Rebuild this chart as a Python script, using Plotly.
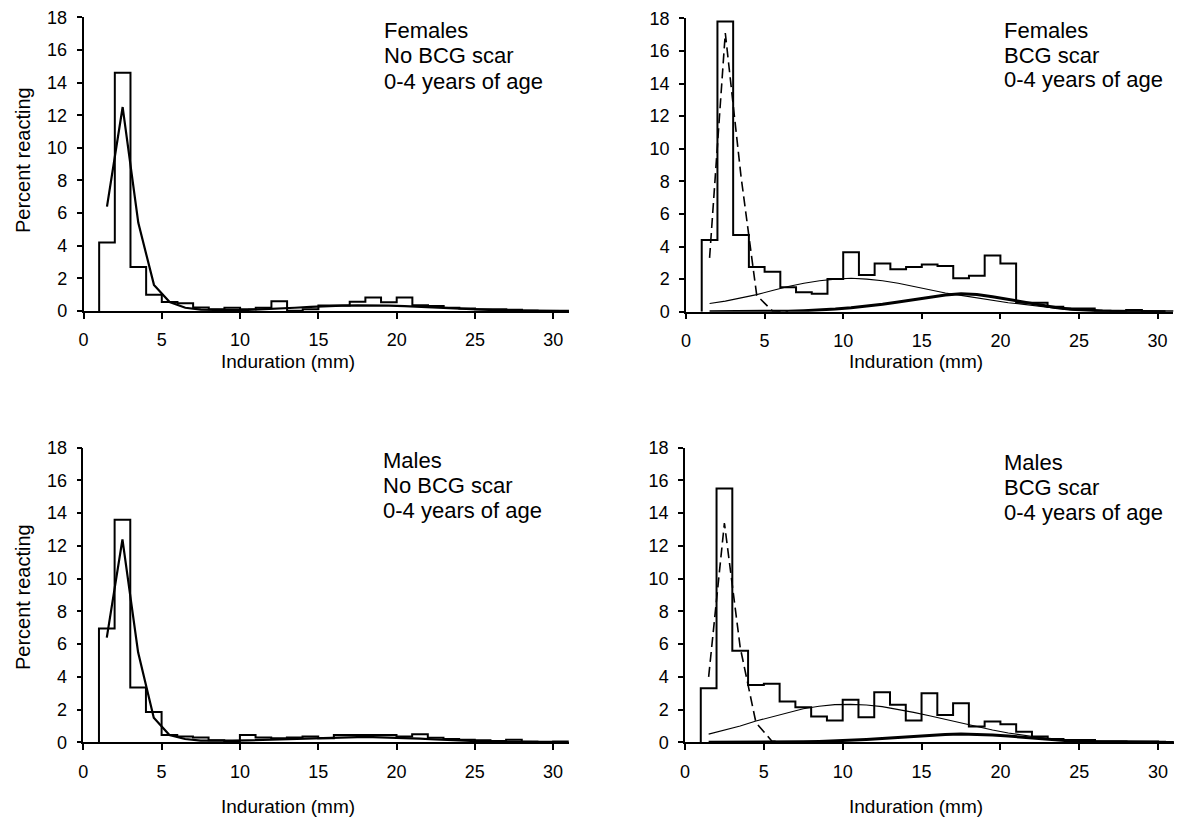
import plotly.graph_objects as go

# ---------------- data ----------------
# histogram bins: [1,2), [2,3), ... [30,31)  (percent reacting)
bin_left = list(range(1, 31))
bin_right_end = 31
# fitted curves evaluated at bin centres
centres = [b + 0.5 for b in range(1, 31)]
dash_centres = [1.5, 2.5, 3.5, 4.5, 5.5, 6.5]

tl_hist = [4.2, 14.6, 2.7, 1.0, 0.55, 0.47, 0.22, 0.1, 0.2, 0.1, 0.2, 0.6, 0.02, 0.1, 0.33,
           0.33, 0.57, 0.82, 0.53, 0.82, 0.35, 0.3, 0.2, 0.15, 0.1, 0.1, 0.08, 0.03, 0.02, 0.01]
tl_fit = [6.4, 12.5, 5.4, 1.6, 0.55, 0.2, 0.08, 0.05, 0.05, 0.07, 0.1, 0.15, 0.2, 0.25, 0.3,
          0.33, 0.35, 0.35, 0.33, 0.3, 0.25, 0.2, 0.15, 0.1, 0.07, 0.04, 0.02, 0.01, 0.0, 0.0]

tr_hist = [4.4, 17.8, 4.7, 2.75, 2.45, 1.5, 1.2, 1.1, 2.0, 3.65, 2.25, 2.95, 2.6, 2.75, 2.9,
           2.8, 2.05, 2.2, 3.45, 2.95, 0.55, 0.55, 0.3, 0.2, 0.2, 0.06, 0.05, 0.1, 0.03, 0.02]
tr_dash = [3.3, 17.1, 8.3, 1.0, 0.05, 0.0]
tr_thin = [0.5, 0.65, 0.85, 1.05, 1.3, 1.55, 1.75, 1.9, 2.0, 2.05, 2.0, 1.9, 1.75, 1.55, 1.35,
           1.15, 1.0, 0.85, 0.7, 0.55, 0.45, 0.32, 0.21, 0.13, 0.07, 0.04, 0.02, 0.01, 0.0, 0.0]
tr_thick = [0.0, 0.0, 0.0, 0.0, 0.01, 0.03, 0.06, 0.1, 0.16, 0.24, 0.34, 0.46, 0.6, 0.75, 0.9,
            1.03, 1.1, 1.05, 0.92, 0.75, 0.57, 0.4, 0.26, 0.15, 0.08, 0.04, 0.02, 0.01, 0.0, 0.0]

bl_hist = [6.95, 13.6, 3.35, 1.85, 0.45, 0.35, 0.3, 0.12, 0.08, 0.45, 0.3, 0.25, 0.3, 0.35, 0.25,
           0.45, 0.45, 0.45, 0.45, 0.35, 0.49, 0.28, 0.2, 0.15, 0.12, 0.08, 0.15, 0.05, 0.03, 0.05]
bl_fit = [6.4, 12.4, 5.5, 1.5, 0.45, 0.2, 0.1, 0.08, 0.1, 0.12, 0.15, 0.18, 0.22, 0.25, 0.28,
          0.3, 0.32, 0.32, 0.3, 0.27, 0.22, 0.17, 0.12, 0.08, 0.05, 0.03, 0.02, 0.01, 0.0, 0.0]

br_hist = [3.3, 15.5, 5.6, 3.5, 3.57, 2.5, 2.14, 1.57, 1.33, 2.6, 1.53, 3.06, 2.29, 1.33, 3.0,
           1.67, 2.39, 0.96, 1.27, 1.1, 0.65, 0.35, 0.2, 0.14, 0.14, 0.07, 0.07, 0.05, 0.05, 0.02]
br_dash = [4.0, 13.4, 5.8, 1.2, 0.08, 0.0]
br_thin = [0.5, 0.75, 1.0, 1.3, 1.55, 1.8, 2.05, 2.2, 2.3, 2.32, 2.28, 2.18, 2.02, 1.83, 1.62,
           1.4, 1.17, 0.95, 0.75, 0.57, 0.42, 0.29, 0.19, 0.12, 0.07, 0.04, 0.02, 0.01, 0.0, 0.0]
br_thick = [0.0, 0.0, 0.0, 0.0, 0.01, 0.02, 0.03, 0.05, 0.08, 0.12, 0.17, 0.23, 0.3, 0.37, 0.43,
            0.48, 0.5, 0.49, 0.45, 0.38, 0.3, 0.22, 0.14, 0.08, 0.04, 0.02, 0.01, 0.0, 0.0, 0.0]

labels_tl = ["Females", "No BCG scar", "0-4 years of age"]
labels_tr = ["Females", "BCG scar", "0-4 years of age"]
labels_bl = ["Males", "No BCG scar", "0-4 years of age"]
labels_br = ["Males", "BCG scar", "0-4 years of age"]

x_ticks = [0, 5, 10, 15, 20, 25, 30]
y_ticks = [0, 2, 4, 6, 8, 10, 12, 14, 16, 18]
x_title = "Induration (mm)"
y_title = "Percent reacting"

# ---------------- layout geometry (pixels) ----------------
W, H = 1178, 817
FONT = "Liberation Sans, Arial, Helvetica, sans-serif"
XMAX = 31

panels = [
    dict(hist=tl_hist, fit=tl_fit, labels=labels_tl, x0=83.5, pxu=15.66, ybot=311.0, ytop=17.3,
         lab_x=382, lab_y=[29, 55, 80], ytitle=True),
    dict(hist=tr_hist, dash=tr_dash, thin=tr_thin, thick=tr_thick, labels=labels_tr, x0=686.0,
         pxu=15.72, ybot=311.7, ytop=18.3, lab_x=1002, lab_y=[29, 54, 79], ytitle=False),
    dict(hist=bl_hist, fit=bl_fit, labels=labels_bl, x0=83.3, pxu=15.66, ybot=742.3, ytop=447.7,
         lab_x=381, lab_y=[460, 484.5, 509.5], ytitle=True),
    dict(hist=br_hist, dash=br_dash, thin=br_thin, thick=br_thick, labels=labels_br, x0=685.0,
         pxu=15.77, ybot=742.3, ytop=447.7, lab_x=1002, lab_y=[461.5, 486.5, 511.5], ytitle=False),
]

fig = go.Figure()
annotations = []
layout_axes = {}

for i, p in enumerate(panels, start=1):
    xa = "x" if i == 1 else f"x{i}"
    ya = "y" if i == 1 else f"y{i}"
    # histogram outline as a step line
    hx = [bin_left[0]] + bin_left + [bin_right_end, bin_right_end]
    hy = [0] + p["hist"] + [p["hist"][-1], 0]
    fig.add_trace(go.Scatter(x=hx, y=hy, mode="lines", line=dict(color="black", width=2, shape="hv"),
                             xaxis=xa, yaxis=ya, showlegend=False, hoverinfo="skip"))
    if "fit" in p:
        fig.add_trace(go.Scatter(x=centres, y=p["fit"], mode="lines",
                                 line=dict(color="black", width=2.2),
                                 xaxis=xa, yaxis=ya, showlegend=False, hoverinfo="skip"))
    else:
        fig.add_trace(go.Scatter(x=centres, y=p["thin"], mode="lines",
                                 line=dict(color="black", width=1.1),
                                 xaxis=xa, yaxis=ya, showlegend=False, hoverinfo="skip"))
        fig.add_trace(go.Scatter(x=centres, y=p["thick"], mode="lines",
                                 line=dict(color="black", width=3),
                                 xaxis=xa, yaxis=ya, showlegend=False, hoverinfo="skip"))
        fig.add_trace(go.Scatter(x=dash_centres, y=p["dash"], mode="lines",
                                 line=dict(color="black", width=1.6, dash="10px,5px"),
                                 xaxis=xa, yaxis=ya, showlegend=False, hoverinfo="skip"))

    xdom = [p["x0"] / W, (p["x0"] + XMAX * p["pxu"]) / W]
    ydom = [1 - p["ybot"] / H, 1 - p["ytop"] / H]
    key_x = "xaxis" if i == 1 else f"xaxis{i}"
    key_y = "yaxis" if i == 1 else f"yaxis{i}"
    layout_axes[key_x] = dict(domain=xdom, anchor=ya, range=[0, XMAX], tickvals=x_ticks,
                              showline=True, linecolor="black", linewidth=1.5, ticks="outside",
                              ticklen=6, tickwidth=1.5, tickcolor="black", showgrid=False,
                              zeroline=False, automargin=False,
                              tickfont=dict(family=FONT, size=18, color="black"),
                              ticklabelstandoff=6)
    layout_axes[key_y] = dict(domain=ydom, anchor=xa, range=[0, 18], tickvals=y_ticks,
                              showline=True, linecolor="black", linewidth=1.5, ticks="outside",
                              ticklen=5, tickwidth=1.5, tickcolor="black", showgrid=False,
                              zeroline=False, automargin=False,
                              tickfont=dict(family=FONT, size=18, color="black"),
                              ticklabelstandoff=6)
    # panel labels
    for txt, yy in zip(p["labels"], p["lab_y"]):
        annotations.append(dict(text=txt, xref="paper", yref="paper", x=p["lab_x"] / W,
                                y=1 - (yy + 1) / H, xanchor="left", yanchor="middle",
                                showarrow=False, font=dict(family=FONT, size=22, color="black")))
    # x title
    xt_cx = 288 if i in (1, 3) else 916
    xt_cy = 361 if i in (1, 2) else 806
    annotations.append(dict(text=x_title, xref="paper", yref="paper", x=xt_cx / W, y=1 - xt_cy / H,
                            xanchor="center", yanchor="middle", showarrow=False,
                            font=dict(family=FONT, size=19, color="black")))
    if p["ytitle"]:
        yt_cy = 160 if i == 1 else 597
        annotations.append(dict(text=y_title, xref="paper", yref="paper", x=23 / W, y=1 - yt_cy / H,
                                xanchor="center", yanchor="middle", showarrow=False, textangle=-90,
                                font=dict(family=FONT, size=20, color="black")))

fig.update_layout(width=W, height=H, margin=dict(l=0, r=0, t=0, b=0, autoexpand=False),
                  paper_bgcolor="white", plot_bgcolor="white", showlegend=False,
                  annotations=annotations, **layout_axes)

fig.write_html("out.html")
